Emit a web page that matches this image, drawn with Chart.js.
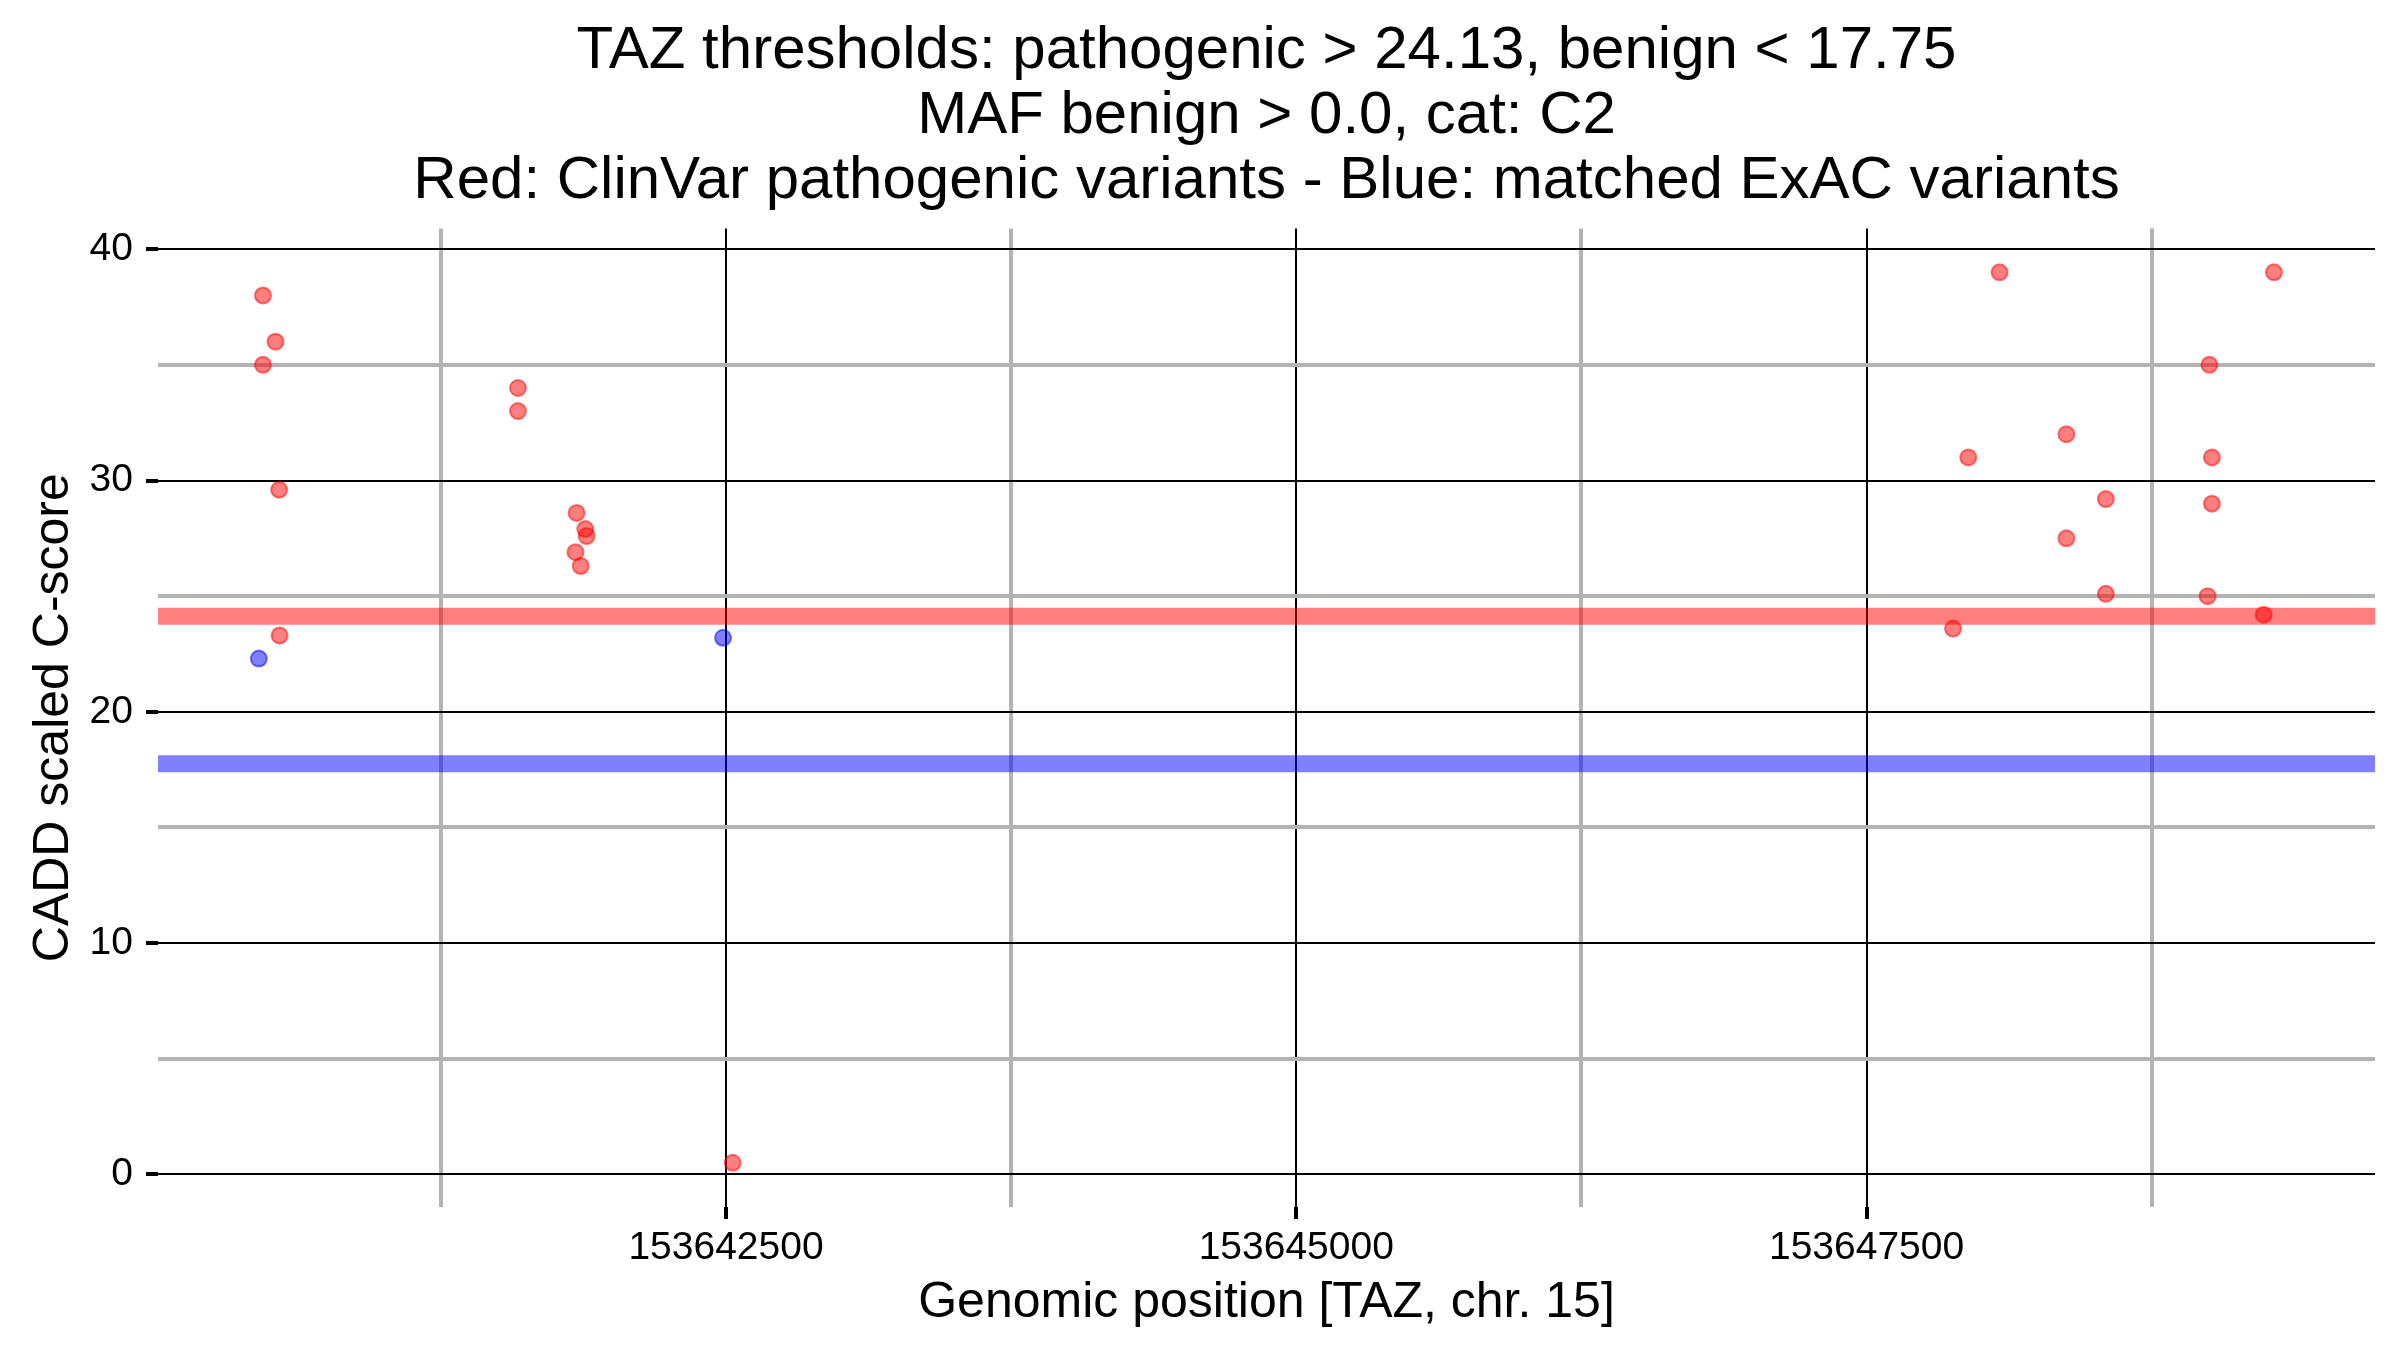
<!DOCTYPE html>
<html>
<head>
<meta charset="utf-8">
<title>TAZ CADD scores</title>
<script src="https://cdn.jsdelivr.net/npm/chart.js@4.4.1/dist/chart.umd.min.js"></script>
<style>
  html, body { margin: 0; padding: 0; background: #fff; }
  #wrap { width: 2400px; height: 1350px; }
</style>
</head>
<body>
<div id="wrap"><canvas id="chartCadd"></canvas></div>
<script>
// title lines
const titleLines = [
    'TAZ thresholds: pathogenic > 24.13, benign < 17.75',
    'MAF benign > 0.0, cat: C2',
    'Red: ClinVar pathogenic variants - Blue: matched ExAC variants'
];

// ClinVar pathogenic variants (red)
const clinvarPos = [
    153640470, 153640525, 153640470, 153640541, 153640543,
    153641588, 153641588, 153641845, 153641883, 153641889, 153641840, 153641863,
    153642529,
    153647879, 153647946, 153648083, 153648376, 153648376, 153648549, 153648549,
    153648995, 153649003, 153649014, 153649014, 153649241, 153649286
];
const clinvarScore = [
    38.0, 36.0, 35.0, 29.6, 23.3,
    34.0, 33.0, 28.6, 27.9, 27.6, 26.9, 26.3,
    0.5,
    23.6, 31.0, 39.0, 32.0, 27.5, 29.2, 25.1,
    25.0, 35.0, 31.0, 29.0, 24.2, 39.0
];

// matched ExAC variants (blue)
const exacPos = [153640452, 153642487];
const exacScore = [22.3, 23.2];

// thresholds
const pathogenicThreshold = 24.13;
const benignThreshold = 17.75;

// axes
const xMin = 153640010;
const xMax = 153649729;
const yMin = -1.41;
const yMax = 40.9;
const xMajorTicks = [153642500, 153645000, 153647500];
const xMinorTicks = [153641250, 153643750, 153646250, 153648750];
const yMajorTicks = [0, 10, 20, 30, 40];
const yMinorTicks = [5, 15, 25, 35];

Chart.defaults.font.family = "'Liberation Sans', Arial, Helvetica, sans-serif";
Chart.defaults.color = '#000';

function toPoints(xs, ys) {
    const pts = [];
    for (let i = 0; i < xs.length; i++) {
        pts.push({ x: xs[i], y: ys[i] });
    }
    return pts;
}

function isMajor(list, v) {
    return list.indexOf(v) !== -1;
}

const ctx_cadd = document.getElementById('chartCadd').getContext('2d');

const data_cadd = {
    datasets: [{
        label: 'ClinVar pathogenic',
        type: 'scatter',
        data: toPoints(clinvarPos, clinvarScore),
        backgroundColor: 'rgba(255, 0, 0, 0.5)',
        borderColor: 'rgba(255, 0, 0, 0.5)',
        borderWidth: 2,
        pointRadius: 8,
        order: 1
    }, {
        label: 'ExAC matched',
        type: 'scatter',
        data: toPoints(exacPos, exacScore),
        backgroundColor: 'rgba(0, 0, 255, 0.5)',
        borderColor: 'rgba(0, 0, 255, 0.5)',
        borderWidth: 2,
        pointRadius: 8,
        order: 2
    }, {
        label: 'pathogenic threshold',
        type: 'line',
        data: [{ x: xMin, y: pathogenicThreshold }, { x: xMax, y: pathogenicThreshold }],
        borderColor: 'rgba(255, 0, 0, 0.5)',
        borderWidth: 17,
        pointRadius: 0,
        borderCapStyle: 'butt',
        order: 3
    }, {
        label: 'benign threshold',
        type: 'line',
        data: [{ x: xMin, y: benignThreshold }, { x: xMax, y: benignThreshold }],
        borderColor: 'rgba(0, 0, 255, 0.5)',
        borderWidth: 17,
        pointRadius: 0,
        borderCapStyle: 'butt',
        order: 4
    }]
};

const config_cadd = {
    type: 'scatter',
    data: data_cadd,
    options: {
        responsive: true,
        maintainAspectRatio: false,
        devicePixelRatio: 1,
        animation: false,
        layout: {
            padding: { left: 0, right: 25, top: 0, bottom: 0 }
        },
        plugins: {
            legend: { display: false },
            tooltip: { enabled: false },
            title: {
                display: true,
                fullSize: false,   // centre over the plot panel, not the canvas
                text: titleLines,
                color: '#000',
                font: { size: 60, weight: 'normal', lineHeight: 1.08 },
                padding: { top: 19, bottom: 15 }
            }
        },
        scales: {
            x: {
                type: 'linear',
                min: xMin,
                max: xMax,
                afterBuildTicks: function (scale) {
                    scale.ticks = xMinorTicks.concat(xMajorTicks)
                        .sort(function (a, b) { return a - b; })
                        .map(function (v) { return { value: v }; });
                },
                afterFit: function (scale) {
                    scale.height = 143;
                },
                border: { display: false },
                grid: {
                    color: function (c) {
                        return isMajor(xMajorTicks, c.tick.value) ? '#000' : '#b3b3b3';
                    },
                    lineWidth: function (c) {
                        return isMajor(xMajorTicks, c.tick.value) ? 2 : 4;
                    },
                    tickColor: function (c) {
                        return isMajor(xMajorTicks, c.tick.value) ? '#000' : 'rgba(0,0,0,0)';
                    },
                    tickWidth: 4,
                    tickLength: 12
                },
                ticks: {
                    autoSkip: false,
                    maxRotation: 0,
                    padding: 6,
                    font: { size: 39 },
                    color: '#000',
                    callback: function (value) {
                        return isMajor(xMajorTicks, value) ? String(value) : '';
                    }
                },
                title: {
                    display: true,
                    text: 'Genomic position [TAZ, chr. 15]',
                    color: '#000',
                    font: { size: 50 },
                    padding: { top: 0, bottom: 17 }
                }
            },
            y: {
                type: 'linear',
                min: yMin,
                max: yMax,
                afterBuildTicks: function (scale) {
                    scale.ticks = yMinorTicks.concat(yMajorTicks)
                        .sort(function (a, b) { return a - b; })
                        .map(function (v) { return { value: v }; });
                },
                afterFit: function (scale) {
                    scale.width = 158;
                },
                border: { display: false },
                grid: {
                    color: function (c) {
                        return isMajor(yMajorTicks, c.tick.value) ? '#000' : '#b3b3b3';
                    },
                    lineWidth: function (c) {
                        return isMajor(yMajorTicks, c.tick.value) ? 2 : 4;
                    },
                    tickColor: function (c) {
                        return isMajor(yMajorTicks, c.tick.value) ? '#000' : 'rgba(0,0,0,0)';
                    },
                    tickWidth: 4,
                    tickLength: 12
                },
                ticks: {
                    autoSkip: false,
                    padding: 13,
                    font: { size: 39 },
                    color: '#000',
                    callback: function (value) {
                        return isMajor(yMajorTicks, value) ? String(value) : '';
                    }
                },
                title: {
                    display: true,
                    text: 'CADD scaled C-score',
                    color: '#000',
                    font: { size: 50 },
                    padding: { top: 24, bottom: 0 }
                }
            }
        }
    }
};

const chart_cadd = new Chart(ctx_cadd, config_cadd);
</script>
</body>
</html>
